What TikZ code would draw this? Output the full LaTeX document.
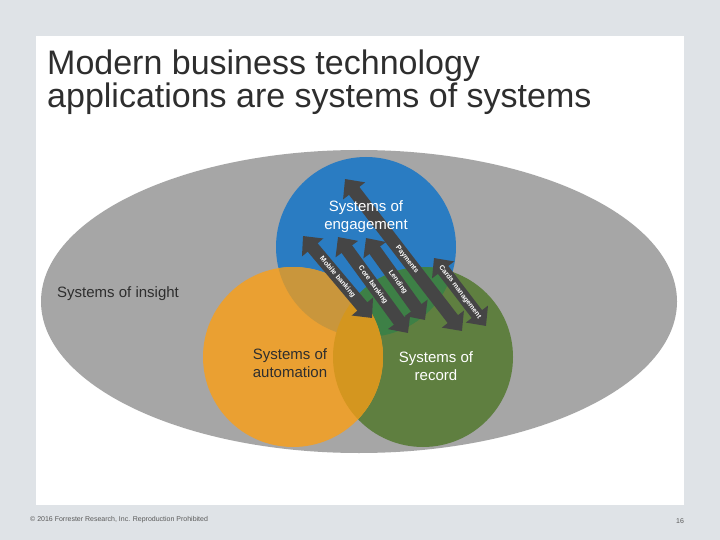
\documentclass[tikz,border=0pt]{standalone}
\usepackage{fontspec}
\setmainfont{Liberation Sans}
\usetikzlibrary{arrows.meta}
\definecolor{pagebg}{HTML}{DFE3E7}
\definecolor{insightc}{HTML}{A6A6A6}
\definecolor{engagec}{HTML}{2A7CC2}
\definecolor{recordc}{HTML}{5F7F40}
\definecolor{automc}{HTML}{EAA032}
\definecolor{engrecc}{HTML}{3D8046}
\definecolor{engautc}{HTML}{C9963C}
\definecolor{autrecc}{HTML}{D4961F}
\definecolor{arrowc}{HTML}{454545}
\definecolor{titlec}{HTML}{2E2E2E}
\definecolor{footc}{HTML}{595959}

\tikzset{
  bigarrow/.style={draw=arrowc, line width=13pt,
    {Triangle[width=27pt,length=15pt]}-{Triangle[width=27pt,length=15pt]}},
  arrowlabel/.style={sloped, text=white, inner sep=0pt,
    font=\fontsize{7}{8}\selectfont\bfseries},
  venntext/.style={align=center, inner sep=0pt,
    font=\fontsize{15}{18}\selectfont}
}

\begin{document}
\begin{tikzpicture}[x=1pt, y=-1pt]
\fill[pagebg] (0,0) rectangle (720,540);
\fill[white] (36,36) rectangle (684,505);

\node[anchor=north west, align=left, inner sep=0pt, text=titlec,
  font=\fontsize{34}{33}\selectfont] (title) at (47,50)
  {Modern business technology\\applications are systems of systems};

% the circles
\fill[insightc] (359,301.5) ellipse [x radius=318pt, y radius=151.5pt];
\fill[engagec] (366,247) circle (90pt);
\fill[recordc] (423,357) circle (90pt);
\fill[automc] (293,357) circle (90pt);
\begin{scope}
  \clip (366,247) circle (90pt);
  \fill[engrecc] (423,357) circle (90pt);
  \fill[engautc] (293,357) circle (90pt);
\end{scope}
\begin{scope}
  \clip (423,357) circle (90pt);
  \fill[autrecc] (293,357) circle (90pt);
\end{scope}

\node[venntext, anchor=west, align=left, text=titlec] (insight) at (57,294) {Systems of insight};
\node[venntext, text=titlec] (autom) at (290,363) {Systems of\\automation};
\node[venntext, text=white] (record) at (436,366) {Systems of\\record};

% the arrows
\coordinate (mob1) at (303,236);  \coordinate (mob2) at (372,318);
\coordinate (core1) at (338,237); \coordinate (core2) at (408,333);
\coordinate (lend1) at (366,238); \coordinate (lend2) at (425,320);
\coordinate (pay1) at (345,179);  \coordinate (pay2) at (462,331);
\coordinate (card1) at (434,258); \coordinate (card2) at (486,326);

\draw[bigarrow] (mob1) -- node[arrowlabel, pos=0.5] {Mobile banking} (mob2);
\draw[bigarrow] (core1) -- node[arrowlabel, pos=0.5] {Core banking} (core2);
\draw[bigarrow] (lend1) -- node[arrowlabel, pos=0.54] {Lending} (lend2);
\draw[bigarrow] (pay1) -- node[arrowlabel, pos=0.53] {Payments} (pay2);
\draw[bigarrow] (card1) -- node[arrowlabel, pos=0.5] {Cards management} (card2);

\node[venntext, text=white] (engage) at (366,217) {Systems of\\engagement};

\node[anchor=west, inner sep=0pt, text=footc, font=\fontsize{7}{8}\selectfont]
  (foot) at (30,520) {© 2016 Forrester Research, Inc. Reproduction Prohibited};
\node[inner sep=0pt, text=footc, font=\fontsize{7}{8}\selectfont] (pagenum) at (680,521) {16};
\end{tikzpicture}
\end{document}
